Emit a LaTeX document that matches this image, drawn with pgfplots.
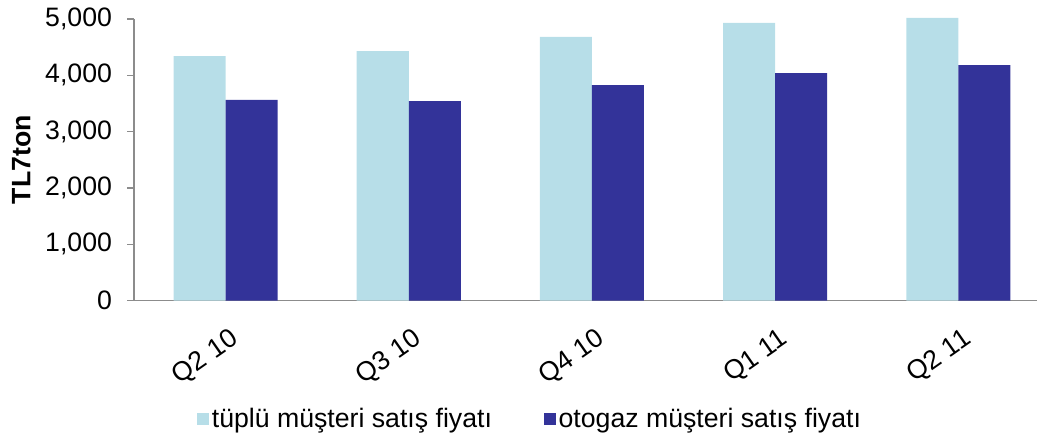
\documentclass[border=0pt]{standalone}
\usepackage{pgfplots}
\pgfplotsset{compat=1.18}
\usepackage{fontspec}
\setmainfont{Liberation Sans}
\definecolor{lightc}{HTML}{B7DEE8}
\definecolor{darkc}{HTML}{333399}
\definecolor{axisgray}{HTML}{8C8C8C}
\begin{document}
\begin{tikzpicture}[x=1pt,y=1pt]
\begin{axis}[
  scale only axis,
  width=677.25pt, height=211.3pt,
  ybar=0pt, bar width=39pt,
  xmin=-0.5, xmax=4.43,
  ymin=0, ymax=5000,
  ytick={0,1000,2000,3000,4000,5000},
  xtick={0,1,2,3,4},
  xticklabels={Q2 10,Q3 10,Q4 10,Q1 11,Q2 11},
  extra x ticks={0.5,1.5,2.5,3.5},
  extra x tick labels={},
  extra x tick style={major tick length=4pt, tick style={axisgray, line width=0.9pt}, xtick align=outside},
  x tick label style={rotate=35, anchor=north east, font=\fontsize{20}{22}\selectfont, xshift=-3pt, yshift=-10pt},
  y tick label style={font=\fontsize{20}{22}\selectfont, xshift=-8pt},
  /pgf/number format/assume math mode=true,
  /pgf/number format/1000 sep={,},
  scaled y ticks=false,
  axis x line*=bottom, axis y line*=left,
  axis line style={axisgray, line width=0.9pt},
  ytick style={axisgray, line width=0.9pt},
  xtick style={draw=none},
  major tick length=5pt,
  tick align=outside,
  ylabel={\textbf{TL7ton}},
  ylabel style={font=\fontsize{20}{22}\selectfont, yshift=4pt},
  legend style={at={(0.439,-0.42)}, anchor=center, draw=none, legend columns=2,
    font=\fontsize{20}{22}\selectfont, /tikz/every even column/.append style={column sep=37pt}},
  legend image code/.code={\fill[#1] (0pt,-4.5pt) rectangle (9pt,4.5pt);},
  clip=false,
]
\addplot[fill=lightc, draw=none] coordinates {(0,4341) (1,4431) (2,4680) (3,4929) (4,5021)};
\addplot[fill=darkc, draw=none] coordinates {(0,3563) (1,3541) (2,3826) (3,4039) (4,4181)};
\legend{tüplü müşteri satış fiyatı, otogaz müşteri satış fiyatı}
\end{axis}
\pgfresetboundingbox
\path[use as bounding box] ([xshift=-100.5pt, yshift=-101.5pt]current axis.south west) rectangle ++(777.75pt,327pt);
\end{tikzpicture}
\end{document}
